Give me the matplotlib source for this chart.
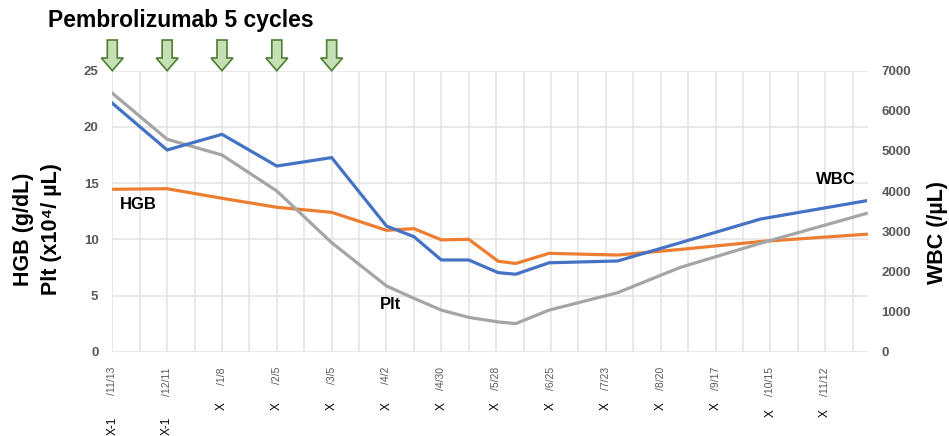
import numpy as np
import matplotlib
matplotlib.use("Agg")
import matplotlib.pyplot as plt
from matplotlib.patches import Polygon
from matplotlib.transforms import blended_transform_factory

plt.rcParams["font.family"] = ["Liberation Sans", "DejaVu Sans"]

W, H = 949, 436

# days since first visit (X-1/11/13)
sample_day = [0, 28, 56, 84, 112, 140, 154, 168, 182, 197, 206, 223, 258, 290, 331, 385]
wbc = [6190, 5025, 5415, 4625, 4835, 3130, 2865, 2285, 2285, 1970, 1930, 2215, 2260, 2715, 3305, 3760]
hgb = [14.45, 14.5, 13.65, 12.85, 12.4, 10.8, 10.95, 9.95, 10.0, 8.05, 7.85, 8.75, 8.6, 9.1, 9.8, 10.45]
plt_cnt = [23.0, 18.9, 17.5, 14.3, 9.7, 5.85, 4.75, 3.7, 3.05, 2.65, 2.5, 3.7, 5.25, 7.5, 9.65, 12.3]

tick_day = [0, 28, 56, 84, 112, 140, 168, 196, 224, 252, 280, 308, 336, 364]
tick_date = ["/11/13", "/12/11", "/1/8", "/2/5", "/3/5", "/4/2", "/4/30",
             "/5/28", "/6/25", "/7/23", "/8/20", "/9/17", "/10/15", "/11/12"]
tick_year = ["X-1", "X-1", "X", "X", "X", "X", "X", "X", "X", "X", "X", "X", "X", "X"]

infusion_day = [0, 28, 56, 84, 112]

BLUE, ORANGE, GRAY = "#4472C4", "#ED7D31", "#A5A5A5"
TICK_GRAY = "#595959"

fig = plt.figure(figsize=(W / 100, H / 100), dpi=100)
ax = fig.add_axes([112.3 / W, 1 - 351.7 / H, 755.2 / W, 281.0 / H])
ax2 = ax.twinx()

ax.plot(sample_day, hgb, color=ORANGE, lw=2.3, solid_joinstyle="miter")
ax.plot(sample_day, plt_cnt, color=GRAY, lw=2.3, solid_joinstyle="miter")
ax2.plot(sample_day, wbc, color=BLUE, lw=2.3, solid_joinstyle="miter")

ax.set_xlim(0, 385.6)
ax.set_ylim(0, 25)
ax2.set_ylim(0, 7000)
ax.set_yticks(np.arange(0, 26, 5))
ax2.set_yticks(np.arange(0, 7001, 1000))
ax.set_xticks(np.arange(0, 386, 14))
ax.set_xticklabels([])

ax.grid(True, color="#e3e3e3", lw=1.1)
ax.set_axisbelow(True)
for a in (ax, ax2):
    for s in a.spines.values():
        s.set_visible(False)
    a.tick_params(length=0)
ax.tick_params(axis="y", pad=10, labelsize=9.5, labelcolor=TICK_GRAY)
ax2.tick_params(axis="y", pad=10, labelsize=9.5, labelcolor=TICK_GRAY)
for lab in ax.get_yticklabels() + ax2.get_yticklabels():
    lab.set_fontweight("bold")

# x labels: date part in gray, anonymised year in black
tr = blended_transform_factory(ax.transData, fig.transFigure)
for d, lab, yr in zip(tick_day, tick_date, tick_year):
    ax.text(d, 1 - 367 / H, lab, transform=tr, rotation=90, ha="center", va="top",
            fontsize=7.5, color=TICK_GRAY)
    if yr == "X-1":
        ytop = 417
    elif len(lab) >= 6:
        ytop = 409
    else:
        ytop = 402
    ax.text(d, 1 - ytop / H, yr, transform=tr, rotation=90, ha="center", va="top",
            fontsize=8.5, color="black")

# infusion arrows
for d in infusion_day:
    sw, hw = 2.55, 5.6
    pts = [(d - sw, 40), (d + sw, 40), (d + sw, 58), (d + hw, 58),
           (d, 70.7), (d - hw, 58), (d - sw, 58)]
    pts = [(x, 1 - y / H) for x, y in pts]
    ax.add_patch(Polygon(pts, closed=True, transform=tr, facecolor="#C5E0B4",
                         edgecolor="#507E32", lw=1.2, clip_on=False, zorder=5))

fig.text(48 / W, 1 - 21 / H, "Pembrolizumab 5 cycles", fontsize=16.5, fontweight="bold",
         ha="left", va="center")

# series labels
fig.text(120 / W, 1 - 204 / H, "HGB", fontsize=12, fontweight="bold", va="center")
fig.text(380 / W, 1 - 304 / H, "Plt", fontsize=12, fontweight="bold", va="center")
fig.text(836 / W, 1 - 179 / H, "WBC", fontsize=12, fontweight="bold", va="center",
         ha="center")

# axis titles
fig.text(24 / W, 1 - 229 / H, "HGB (g/dL)", rotation=90, fontsize=15.5,
         fontweight="bold", ha="center", va="center")
fig.text(52 / W, 1 - 229 / H, "Plt (x10⁴/ µL)", rotation=90, fontsize=15.5,
         fontweight="bold", ha="center", va="center")
fig.text(937 / W, 1 - 233 / H, "WBC (/µL)", rotation=90, fontsize=15.5,
         fontweight="bold", ha="center", va="center")

fig.savefig("out.png", dpi=100)
